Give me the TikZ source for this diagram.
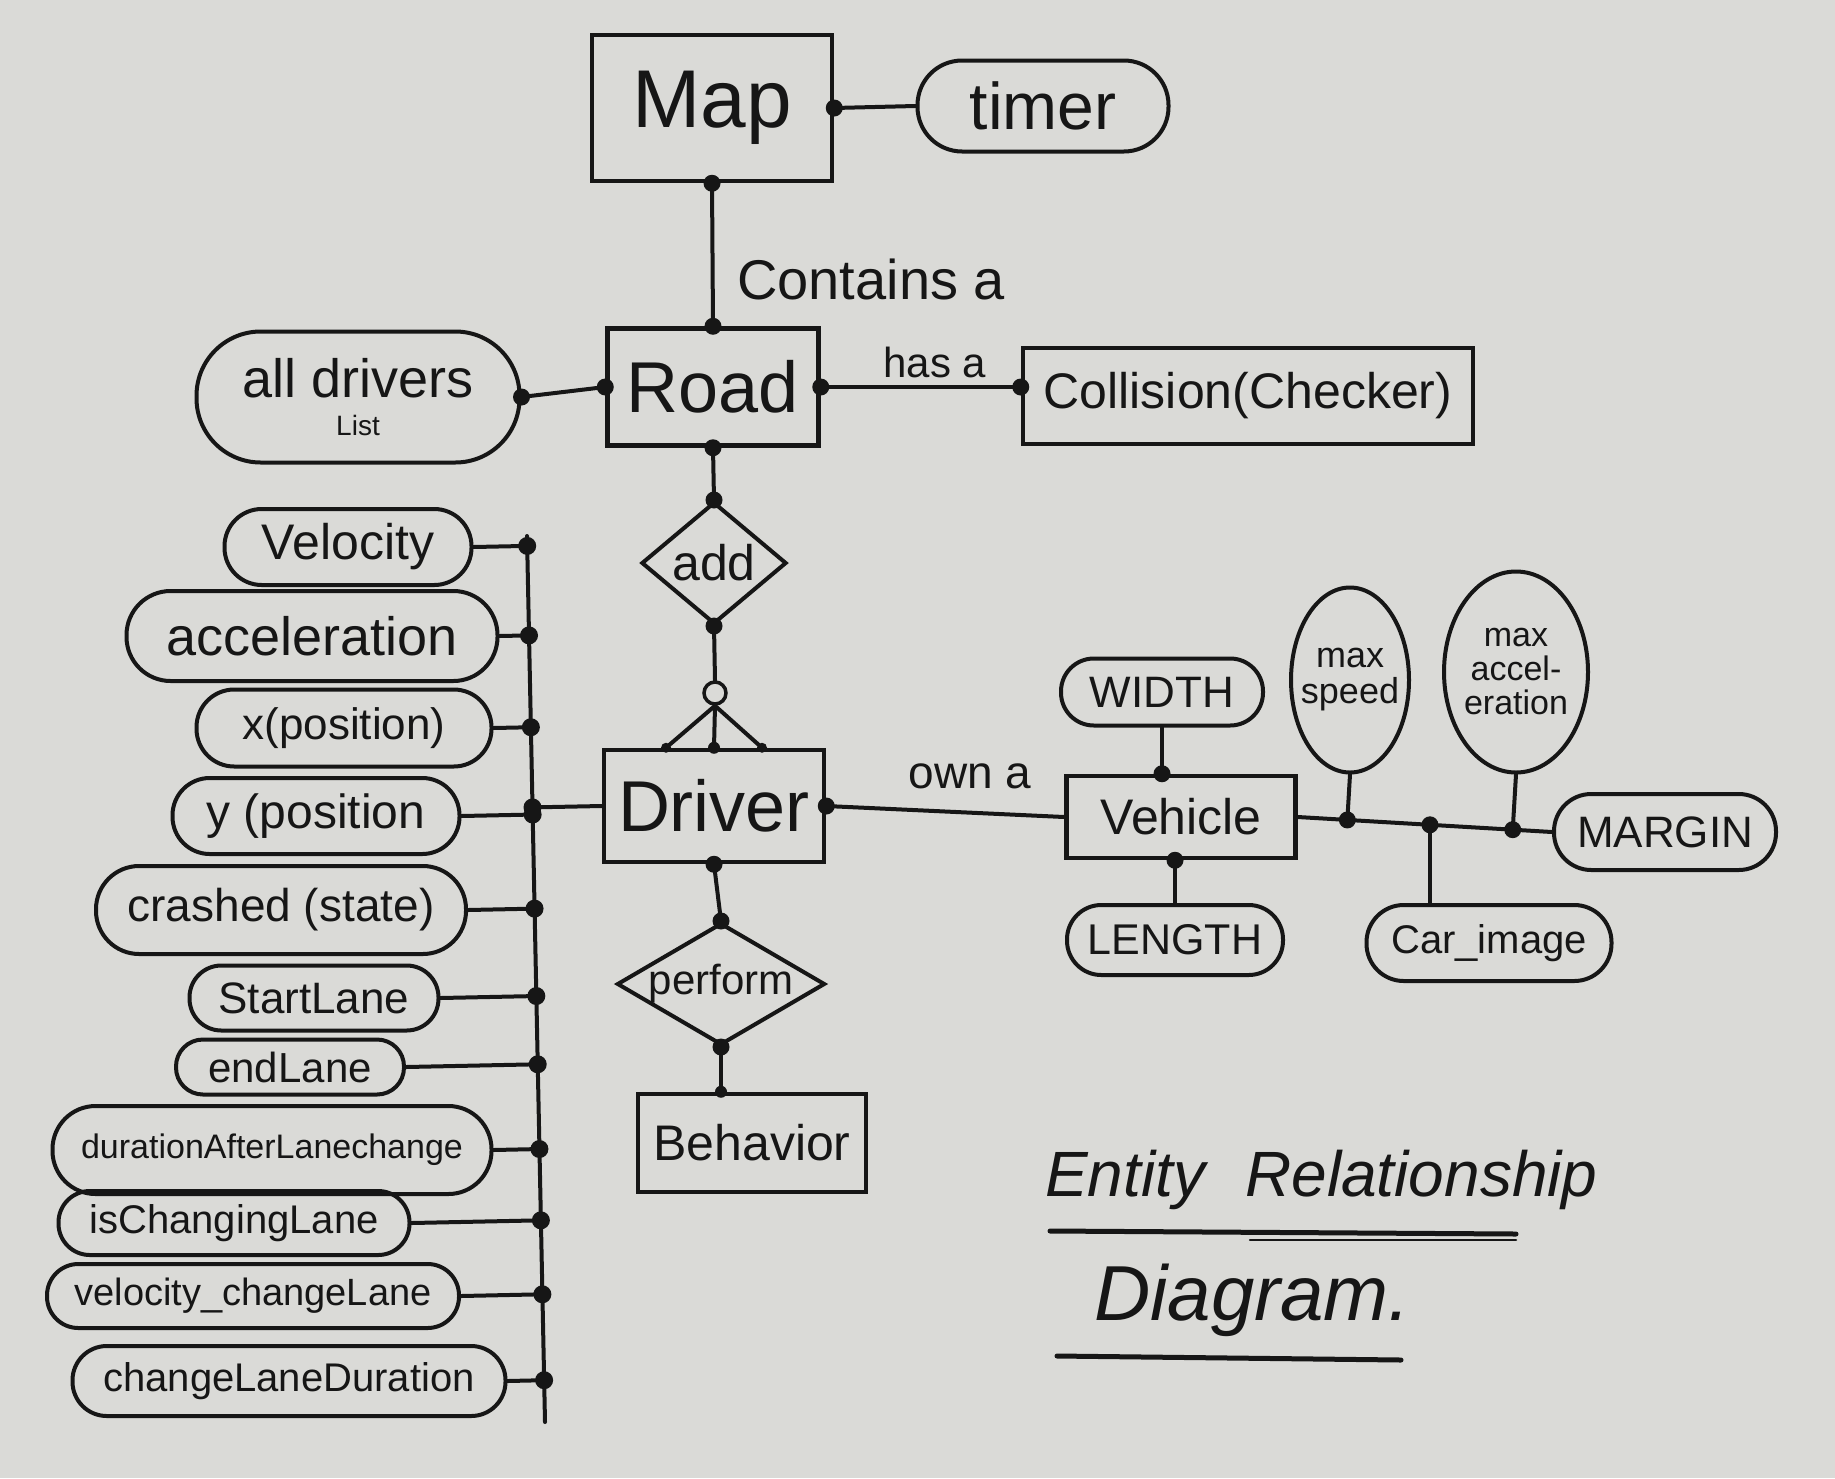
\documentclass[tikz,border=0pt]{standalone}
\usepackage{fontspec}
\setmainfont{Liberation Sans}
\usetikzlibrary{shapes.geometric,calc}
\definecolor{paper}{RGB}{218,218,215}
\definecolor{ink}{RGB}{22,22,22}
\newcommand{\fsz}[1]{\fontsize{#1}{#1}\selectfont}
\begin{document}
\begin{tikzpicture}[x=1pt,y=-1pt,
  every node/.style={text=ink},
  ent/.style 2 args={draw=ink, line width=4.5pt, rectangle, minimum width=#1, minimum height=#2, inner sep=0pt},
  attr/.style 2 args={draw=ink, line width=4pt, rectangle, rounded corners=0.49*#2, minimum width=#1, minimum height=#2, inner sep=0pt},
  oval/.style 2 args={draw=ink, line width=4pt, ellipse, minimum width=#1, minimum height=#2, inner sep=0pt},
  reln/.style 2 args={draw=ink, line width=4pt, diamond, minimum width=#1, minimum height=#2, inner sep=0pt},
  conn/.style={draw=ink, line width=4pt, line cap=round},
  lbl/.style={text=ink, inner sep=0pt}
]
\fill[paper] (0,0) rectangle (1835,1478);

% entities and relationships
\node[ent={240}{146}, font=\fsz{82}] (map) at (712,108) {Map};
\node[attr={251}{91}, font=\fsz{66}] (timer) at (1043,106) {timer};
\node[ent={211}{117}, font=\fsz{72}] (road) at (713,387) {Road};
\node[attr={323}{131}, align=center, font=\fsz{54}] (alld) at (358,397) {all drivers\\[-16pt]\fsz{28}List};
\node[ent={450}{96}, font=\fsz{50}] (coll) at (1248,396) {Collision(Checker)};
\node[reln={145}{122}, label={[lbl,font=\fsz{50}]center:add}] (add) at (714,563) {};
\node[circle, draw=ink, line width=3.5pt, minimum size=22pt, inner sep=0pt] (opt) at (715,693) {};
\node[ent={220}{112}, font=\fsz{72}] (driver) at (714,806) {Driver};
\node[reln={208}{122}, label={[lbl,font=\fsz{42}]center:perform}] (perf) at (721,984) {};
\node[ent={228}{98}, font=\fsz{50}] (beh) at (752,1143) {Behavior};
\node[ent={229}{82}, font=\fsz{50}] (veh) at (1181,817) {Vehicle};
\node[attr={202}{67}, font=\fsz{44}] (width) at (1162,692) {WIDTH};
\node[attr={216}{70}, font=\fsz{43}] (length) at (1175,940) {LENGTH};
\node[oval={118}{185}, label={[lbl,font=\fsz{36},align=center]center:max\\speed}] (maxs) at (1350,680) {};
\node[oval={144}{201}, label={[lbl,font=\fsz{34},align=center]center:max\\accel-\\eration}] (maxa) at (1516,672) {};
\node[attr={245}{76}, font=\fsz{40}] (car) at (1489,943) {Car\_image};
\node[attr={222}{76}, font=\fsz{44}] (margin) at (1665,832) {MARGIN};

% driver attributes
\node[attr={247}{76}, font=\fsz{50}] (a1) at (348,547) {Velocity};
\node[attr={371}{90}, font=\fsz{54}] (a2) at (312,636) {acceleration};
\node[attr={295}{77}, font=\fsz{44}] (a3) at (344,728) {x(position)};
\node[attr={287}{76}, font=\fsz{48}] (a4) at (316,816) {y (position};
\node[attr={370}{88}, font=\fsz{46}] (a5) at (281,910) {crashed (state)};
\node[attr={249}{65}, font=\fsz{44}] (a6) at (314,998) {StartLane};
\node[attr={228}{55}, font=\fsz{42}] (a7) at (290,1067) {endLane};
\node[attr={439}{88}, font=\fsz{34}] (a8) at (272,1150) {durationAfterLanechange};
\node[attr={351}{64}, font=\fsz{40}] (a9) at (234,1223) {isChangingLane};
\node[attr={412}{64}, font=\fsz{38}] (a10) at (253,1296) {velocity\_changeLane};
\node[attr={433}{70}, font=\fsz{40}] (a11) at (289,1381) {changeLaneDuration};

% labels
\node[lbl, font=\fsz{56}, anchor=west] (lcont) at (737,279) {Contains a};
\node[lbl, font=\fsz{42}] (lhas) at (935,362) {has a};
\node[lbl, font=\fsz{46}] (lown) at (970,776) {own a};

% title
\node[lbl, font=\fsz{64}\itshape, anchor=west] (t1) at (1045,1180) {Entity\hspace{40pt}Relationship};
\node[lbl, font=\fsz{78}\itshape, anchor=west] (t2) at (1094,1300) {Diagram.};
\coordinate (u1a) at (1050,1231);
\coordinate (u1b) at (1516,1234);
\coordinate (u1c) at (1250,1240);
\coordinate (u1d) at (1516,1240);
\coordinate (u2a) at (1057,1356);
\coordinate (u2b) at (1401,1360);
\draw[conn, line width=5pt] (u1a) -- (u1b);
\draw[conn, line width=2.5pt] (u1c) -- (u1d);
\draw[conn, line width=5pt] (u2a) -- (u2b);

% connectors
\coordinate (cw) at (road.east -| coll.west);
\draw[conn] (map.east) -- (timer.west);
\draw[conn] (map.south) -- (road.north);
\draw[conn] (alld.east) -- (road.west);
\draw[conn] (road.east) -- (cw);
\draw[conn] (road.south) -- (add.north);
\draw[conn] (add.south) -- (opt.north);
\draw[conn] (opt.south) -- ($(driver.north)+(-48,0)$);
\draw[conn] (opt.south) -- (driver.north);
\draw[conn] (opt.south) -- ($(driver.north)+(48,0)$);
\draw[conn] (driver.east) -- (veh.west);
\draw[conn] (driver.south) -- (perf.north);
\coordinate (bn) at (perf.south |- beh.north);
\draw[conn] (perf.south) -- (bn);
\coordinate (wj) at (width.south |- veh.north);
\draw[conn] (width.south) -- (wj);
\coordinate (lj) at (length.north |- veh.south);
\draw[conn] (length.north) -- (lj);
\draw[conn] (veh.east) -- (margin.west);
\coordinate (js) at ($(veh.east)!(maxs.south)!(margin.west)$);
\coordinate (ja) at ($(veh.east)!(maxa.south)!(margin.west)$);
\coordinate (jc) at ($(veh.east)!0.52!(margin.west)$);
\draw[conn] (maxs.south) -- (js);
\draw[conn] (maxa.south) -- (ja);
\draw[conn] (jc) -- (jc |- car.north);

% left bus
\coordinate (bt) at (527,536);
\coordinate (bb) at (545,1422);
\draw[conn] (bt) -- (bb);
\foreach \n/\a in {a1/east,a2/east,a3/east,a4/east,a5/east,a6/east,a7/east,a8/east,a9/east,a10/east,a11/east,driver/west}{
  \draw[conn] (\n.\a) -- ($(bt)!(\n.\a)!(bb)$);
  \fill[ink] ($(bt)!(\n.\a)!(bb)$) circle[radius=9pt];
}

% dots
\foreach \p in {map.east,map.south,road.north,road.west,alld.east,road.east,cw,road.south,add.north,add.south,driver.east,driver.south,perf.north,perf.south,wj,lj,js,ja,jc}{
  \fill[ink] (\p) circle[radius=8.5pt];
}
\foreach \p in {bn,driver.north}{
  \fill[ink] (\p) circle[radius=6pt];
}
\fill[ink] ($(driver.north)+(-48,0)$) circle[radius=5pt];
\fill[ink] ($(driver.north)+(48,0)$) circle[radius=5pt];
\end{tikzpicture}
\end{document}
